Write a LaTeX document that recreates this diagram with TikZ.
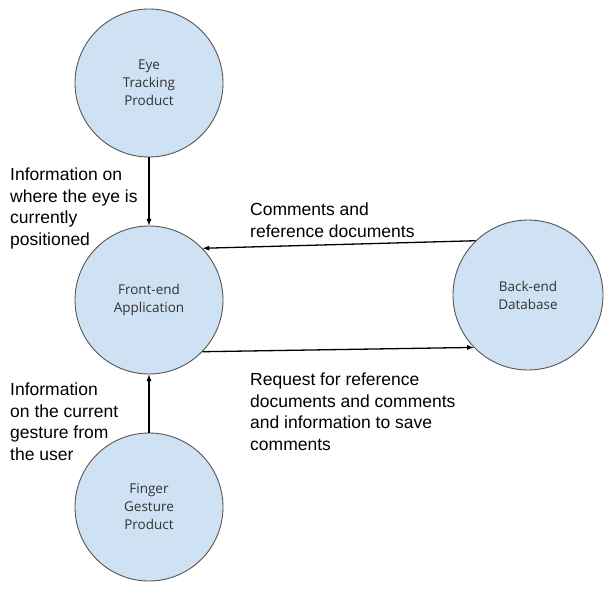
\documentclass[tikz,border=0pt]{standalone}
\usepackage{fontspec}
\setmainfont{Liberation Sans}
\newfontfamily\circlefont{Open Sans}
\usepackage{tikz}
\usetikzlibrary{positioning}
\usetikzlibrary{arrows}
\definecolor{bubblefill}{RGB}{207,226,243}
\definecolor{bubbleline}{RGB}{85,85,85}
\tikzset{
  bubble/.style={circle, draw=bubbleline, line width=0.9pt, fill=bubblefill,
    minimum size=148pt, inner sep=0pt, align=center,
    font=\circlefont\fontsize{13.5}{18}\selectfont, text=black!80},
  flow/.style={-latex, line width=1.3pt},
  note/.style={anchor=north west, inner sep=0pt, align=left,
    font=\fontsize{17.5}{21.5}\selectfont}
}

\begin{document}
\begin{tikzpicture}[x=1pt,y=1pt]
\useasboundingbox (0,0) rectangle (609,590);
\node[bubble] (eye) at (149,507) {Eye\\Tracking\\Product};
\node[bubble] (front) at (149,290) {Front-end\\Application};
\node[bubble, minimum size=150pt] (back) at (528,295) {Back-end\\Database};
\node[bubble] (finger) at (149,83) {Finger\\Gesture\\Product};
% arrows between the parts
\draw[flow] (eye.south) -- (front.north);
\draw[flow] (finger.north) -- (front.south);
\draw[flow] (back.134) -- (front.44);
\draw[flow] (front.-44) -- (back.-136);
% labels
\node[note] (eyeinfo) at (10,422) {Information on\\where the eye is\\currently\\positioned};
\node[note] (backinfo) at (250,387) {Comments and\\reference documents};
\node[note] (request) at (250,217) {Request for reference\\documents and comments\\and information to save\\comments};
\node[note] (gesture) at (10,207) {Information\\on the current\\gesture from\\the user};
\end{tikzpicture}
\end{document}
